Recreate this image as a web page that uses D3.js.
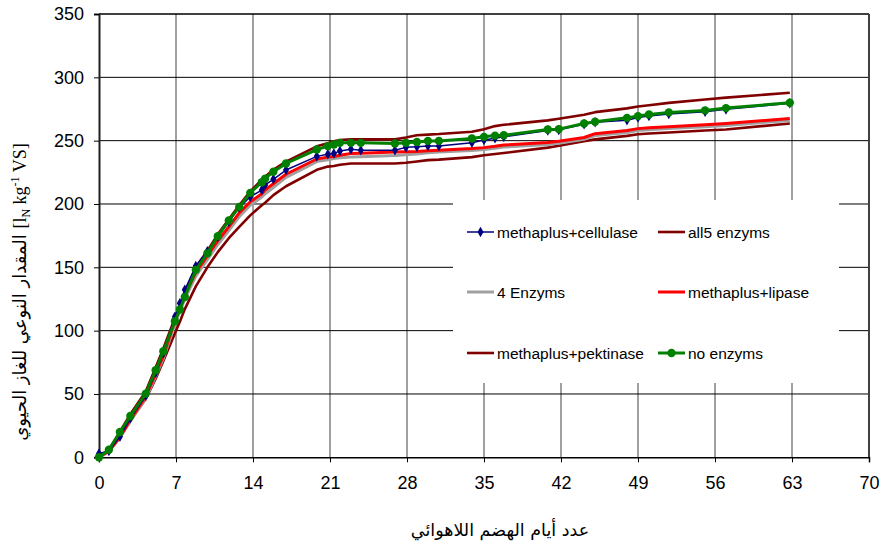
<!DOCTYPE html>
<html lang="ar">
<head>
<meta charset="UTF-8">
<title>Biogas</title>
<style>
  body { margin: 0; background: #fff; }
  .tick text { font-family: "Liberation Sans", Arial, sans-serif; font-size: 18px; fill: #000; }
  .leg { font-family: "Liberation Sans", Arial, sans-serif; font-size: 15.5px; fill: #000; }
  .ar { font-family: "DejaVu Sans", sans-serif; }
</style>
<script src="https://cdn.jsdelivr.net/npm/d3@7"></script>
</head>
<body>
<script>
// Messtage (Tage)
var days = [0, 0.9, 1.9, 2.85, 4.25, 5.15, 5.85, 6.9, 7.35, 7.8, 8.8, 9.85, 10.8, 11.8, 12.75, 13.75,
  14.8, 15.1, 15.85, 17, 19.8, 20.8, 21.35, 21.9, 22.9, 23.8, 26.9, 27.9, 28.9, 29.9, 30.9,
  33.9, 35, 36, 36.8, 40.8, 41.8, 44.1, 45.1, 48, 49, 50, 51.8, 55.1, 57, 62.8];

var cellulase = [3, 5, 16.3, 30.8, 48.6, 66.8, 82.1, 111, 121.6, 132.3, 151, 162.6, 174.2, 186, 197.1, 205.7,
  211, 215, 219.5, 226.8, 237.6, 239.2, 239.8, 241.9, 243.2, 242.5, 242.5, 244.7, 245.2, 245.8, 245.8,
  248.4, 250.5, 251.9, 253.1, 258, 258.5, 263, 264.5, 266.1, 268.3, 269.4, 271, 272.8, 274.7, 279.5];

var all5 = [0, 6, 20, 34, 52, 71, 86, 110, 119, 129, 150, 163, 176, 188, 199, 210,
  219, 221.5, 227, 233.5, 245.5, 248, 249.5, 250.5, 251, 251, 251, 252.5, 254.3, 254.8, 255.2,
  257, 259, 261.5, 262.5, 266, 267.3, 270.5, 272.5, 275.5, 277, 278, 279.8, 282.5, 284, 287.8];

var enz4 = [0, 4.5, 15.5, 28.5, 46.5, 64, 78, 105, 115, 125, 143, 156, 168, 179, 190, 199,
  205.5, 208, 213, 221, 233.5, 235, 235.8, 236.5, 237, 237.2, 238.2, 238.8, 239.5, 240.5, 241,
  242.3, 243, 244, 245, 247, 248, 251, 254, 256.5, 258, 258.7, 259.5, 261, 262, 266];

var lipase = [0, 5, 16, 29.5, 48, 66, 80, 108, 118, 128, 146, 159, 171, 182, 193, 201.7,
  208, 211, 216, 223.5, 235.5, 237, 237.5, 238.5, 239.8, 240, 241, 241.2, 241.5, 242, 242.5,
  243.8, 244.5, 245.5, 246.5, 248.5, 249.5, 252.5, 255.5, 258, 259.5, 260.2, 261, 262.5, 263.5, 267.5];

var pektinase = [0, 5, 17, 29, 46, 62, 76, 98, 107, 117, 135, 150, 162, 173, 182, 191,
  199, 201, 207, 214, 227, 229.5, 230, 231, 232, 232, 232, 232.5, 233.5, 234.6, 235,
  237, 238.5, 239.5, 240.3, 244.5, 246, 249.5, 251, 253.8, 255, 255.7, 256.5, 258, 258.8, 263.6];

var noEnz = [0, 6, 20, 32.6, 50.3, 68.7, 83.7, 107.4, 116.7, 126.6, 148, 161, 174.6, 187, 197.7, 208.8,
  217.2, 220, 225.5, 232, 243, 245.7, 247, 248.3, 248.3, 248.3, 247.8, 248.3, 249, 249.8, 249.8,
  251.7, 253, 254, 254.3, 258.8, 259.1, 263.6, 264.9, 268, 269.4, 270.7, 272.3, 273.9, 275.7, 279.9];

var xTicks = [0, 7, 14, 21, 28, 35, 42, 49, 56, 63, 70];
var yTicks = [0, 50, 100, 150, 200, 250, 300, 350];

var xTitle = "عدد أيام الهضم اللاهوائي";
var yTitleAr = "المقدار النوعي للغاز الحيوي";

// Reihen: Name, Werte, Farbe, Breite, Marker
var series = [
  {name: "methaplus+pektinase", v: pektinase, c: "#800000", w: 2.6, m: null},
  {name: "all5 enzyms", v: all5, c: "#800000", w: 2.6, m: null},
  {name: "4 Enzyms", v: enz4, c: "#a0a0a0", w: 3, m: null},
  {name: "methaplus+lipase", v: lipase, c: "#ff0000", w: 3, m: null},
  {name: "methaplus+cellulase", v: cellulase, c: "#000080", w: 1.5, m: "diamond"},
  {name: "no enzyms", v: noEnz, c: "#008000", w: 3, m: "circle"}
];
// Reihenfolge der Legende
var legendOrder = ["methaplus+cellulase", "all5 enzyms", "4 Enzyms", "methaplus+lipase", "methaplus+pektinase", "no enzyms"];

var W = 882, H = 549;
var svg = d3.select("body").append("svg").attr("width", W).attr("height", H);

var x = d3.scaleLinear().domain([0, 70]).range([99, 869]);
var y = d3.scaleLinear().domain([0, 350]).range([457.3, 14]);

// Gitter
svg.append("g").selectAll("line").data(xTicks.slice(1, -1)).join("line")
  .attr("x1", d => x(d)).attr("x2", d => x(d)).attr("y1", y(350)).attr("y2", y(0))
  .attr("stroke", "#808080").attr("stroke-width", 1.5);
svg.append("g").selectAll("line").data(yTicks.slice(1, -1)).join("line")
  .attr("x1", x(0)).attr("x2", x(70)).attr("y1", d => y(d)).attr("y2", d => y(d))
  .attr("stroke", "#000").attr("stroke-width", 1);

// Rahmen
svg.append("line").attr("x1", x(0)).attr("x2", x(70)).attr("y1", y(350)).attr("y2", y(350))
  .attr("stroke", "#000").attr("stroke-width", 1.5);
svg.append("line").attr("x1", x(70)).attr("x2", x(70)).attr("y1", y(350)).attr("y2", y(0))
  .attr("stroke", "#404040").attr("stroke-width", 2);

// Legende-Hintergrund (verdeckt Gitter)
svg.append("rect").attr("x", 453).attr("y", 200).attr("width", 386).attr("height", 183).attr("fill", "#fff");

// Achsen
var ax = svg.append("g").attr("transform", "translate(0," + y(0) + ")")
  .call(d3.axisBottom(x).tickValues(xTicks).tickSize(5).tickPadding(14));
ax.select(".domain").attr("stroke", "#000").attr("stroke-width", 1.5);
ax.selectAll(".tick line").attr("stroke", "#000");

var ay = svg.append("g").attr("transform", "translate(" + x(0) + ",0)")
  .call(d3.axisLeft(y).tickValues(yTicks).tickSize(5).tickPadding(10));
ay.select(".domain").attr("stroke", "#202020").attr("stroke-width", 2);
ay.selectAll(".tick line").attr("stroke", "#000");

// Linien
var line = d3.line().x(d => x(d[0])).y(d => y(d[1]));
series.forEach(function(s) {
  var pts = days.map((d, i) => [d, s.v[i]]);
  svg.append("path").datum(pts).attr("d", line)
    .attr("fill", "none").attr("stroke", s.c).attr("stroke-width", s.w)
    .attr("stroke-linejoin", "round");
  if (s.m) {
    var sym = d3.symbol().type(s.m === "circle" ? d3.symbolCircle : d3.symbolDiamond).size(s.m === "circle" ? 55 : 32);
    svg.append("g").selectAll("path").data(pts).join("path")
      .attr("d", sym)
      .attr("transform", d => "translate(" + x(d[0]) + "," + y(d[1]) + ")")
      .attr("fill", s.c);
  }
});

// Legende
var legPos = [[467, 232], [658, 232], [467, 292], [658, 292], [467, 353], [658, 353]];
legendOrder.forEach(function(n, i) {
  var s = series.find(t => t.name === n);
  var g = svg.append("g").attr("transform", "translate(" + legPos[i][0] + "," + legPos[i][1] + ")");
  g.append("line").attr("x1", 0).attr("x2", 27).attr("y1", 0).attr("y2", 0)
    .attr("stroke", s.c).attr("stroke-width", s.w);
  if (s.m) {
    var sym = d3.symbol().type(s.m === "circle" ? d3.symbolCircle : d3.symbolDiamond).size(s.m === "circle" ? 55 : 32);
    g.append("path").attr("d", sym).attr("transform", "translate(13.5,0)").attr("fill", s.c);
  }
  g.append("text").attr("class", "leg").attr("x", 30).attr("y", 5.5).text(n);
});

// Achsentitel
svg.append("text").attr("class", "ar").attr("x", 500).attr("y", 536)
  .attr("text-anchor", "middle").attr("font-size", 17.5).text(xTitle);

var yt = svg.append("text").attr("transform", "translate(26,292) rotate(-90)")
  .attr("text-anchor", "middle").attr("font-size", 18).attr("direction", "ltr");
yt.append("tspan").attr("class", "ar").text(yTitleAr + " ");
yt.append("tspan").attr("font-family", "Liberation Serif, serif").text("[l");
yt.append("tspan").attr("font-family", "Liberation Serif, serif").attr("font-size", 12).attr("dy", 4).text("N");
yt.append("tspan").attr("font-family", "Liberation Serif, serif").attr("dy", -4).text(" kg");
yt.append("tspan").attr("font-family", "Liberation Serif, serif").attr("font-size", 12).attr("dy", -7).text("-1");
yt.append("tspan").attr("font-family", "Liberation Serif, serif").attr("dy", 7).text(" VS]");
</script>
</body>
</html>
